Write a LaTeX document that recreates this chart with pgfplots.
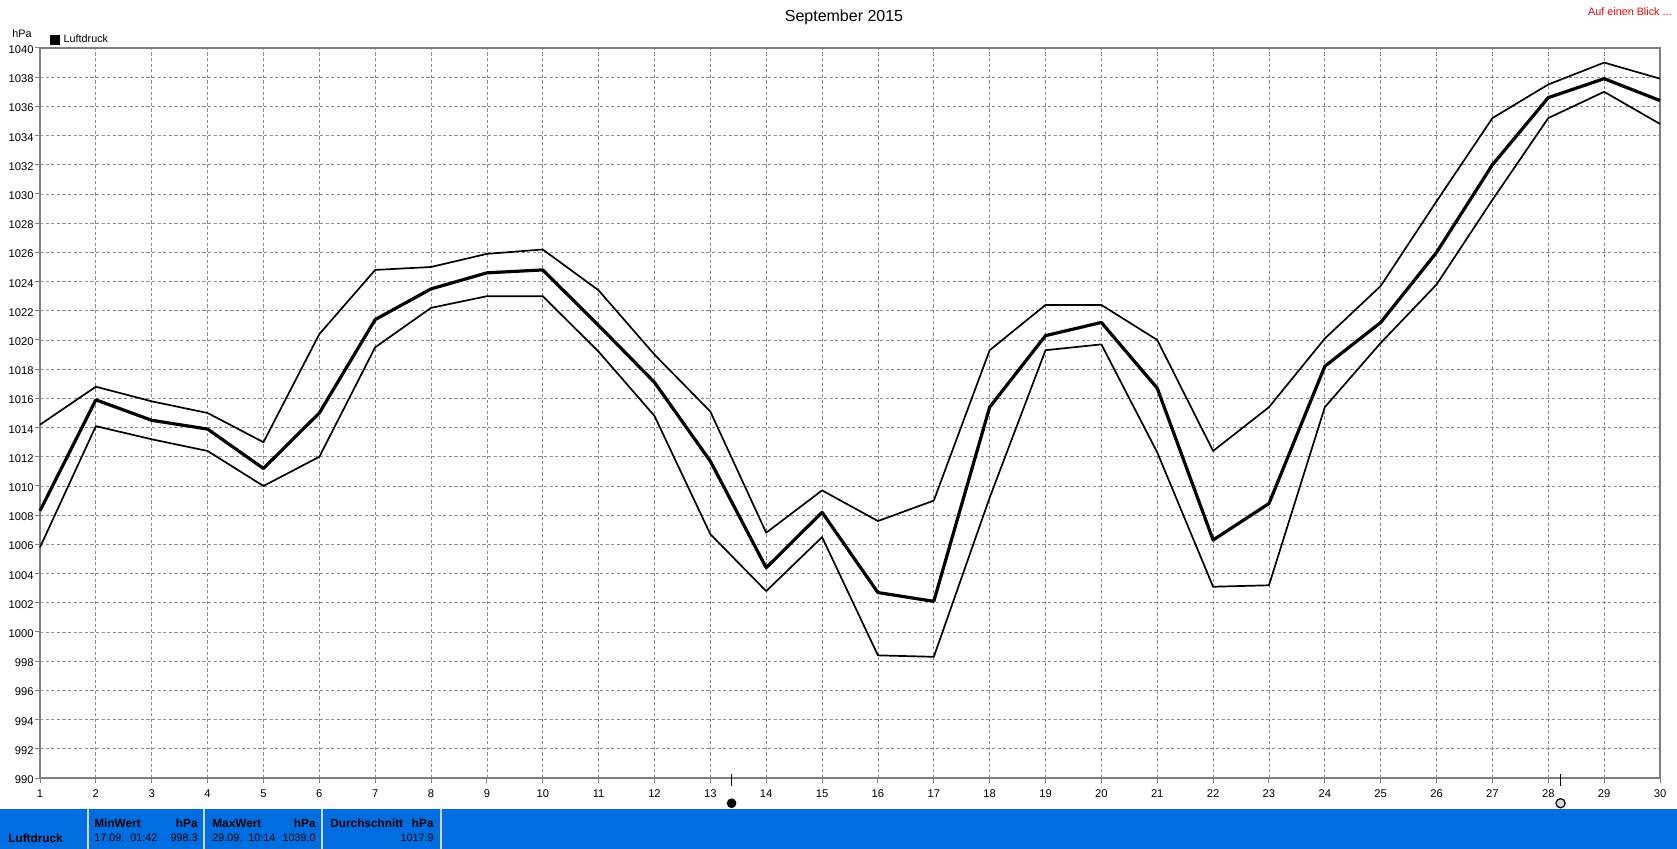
\documentclass[border=0pt]{standalone}
\usepackage{fontspec}
\setmainfont{Liberation Sans}
\usepackage{pgfplots}
\usepackage{pgfplotstable}
\pgfplotsset{compat=1.18}

\definecolor{gridgray}{RGB}{140,140,140}
\definecolor{axisgray}{RGB}{128,128,128}
\definecolor{bandblue}{RGB}{0,110,225}
\definecolor{sepgray}{RGB}{205,215,230}

% day, monthly band of daily max / mean / min pressure in hPa
\pgfplotstableread{
day  high    mean    low
1    1014.2  1008.3  1005.8
2    1016.8  1015.9  1014.1
3    1015.8  1014.5  1013.2
4    1015.0  1013.9  1012.4
5    1013.0  1011.2  1010.0
6    1020.4  1015.0  1012.0
7    1024.8  1021.4  1019.5
8    1025.0  1023.5  1022.2
9    1025.9  1024.6  1023.0
10   1026.2  1024.8  1023.0
11   1023.4  1021.0  1019.2
12   1019.0  1017.1  1014.8
13   1015.1  1011.7  1006.7
14   1006.8  1004.4  1002.8
15   1009.7  1008.2  1006.5
16   1007.6  1002.7  998.4
17   1009.0  1002.1  998.3
18   1019.3  1015.4  1009.2
19   1022.4  1020.3  1019.3
20   1022.4  1021.2  1019.7
21   1020.0  1016.7  1012.3
22   1012.4  1006.3  1003.1
23   1015.4  1008.8  1003.2
24   1020.1  1018.2  1015.4
25   1023.7  1021.2  1019.8
26   1029.5  1026.0  1023.8
27   1035.2  1032.0  1029.6
28   1037.5  1036.6  1035.2
29   1039.0  1037.9  1037.0
30   1037.9  1036.4  1034.8
}\pressure

\begin{document}
\begin{tikzpicture}[x=0.5pt,y=-0.5pt,
    small/.style={font=\fontsize{5.4}{7}\selectfont,inner sep=0pt},
    bold/.style={font=\fontsize{5.9}{7}\selectfont\bfseries,inner sep=0pt},
  ]
  \useasboundingbox (0,0) rectangle (1677,849);
  \coordinate (plotsw) at (40,778);

  % status band
  \fill[bandblue] (0,809) rectangle (1677,849);
  \foreach \s in {88,204,322,441}
    \fill[sepgray] (\s-1,809) rectangle (\s+1,849);

  \begin{axis}[
      at={(plotsw)}, anchor=south west,
      scale only axis,
      width=810pt, height=365pt,
      xmin=1, xmax=30, ymin=990, ymax=1040,
      xtick={1,...,30},
      ytick={990,992,...,1040},
      clip=false,
      axis line style={axisgray,line width=1pt},
      grid=both,
      grid style={gridgray,line width=0.4pt,dash pattern=on 1.6pt off 1.2pt},
      tick style={axisgray,line width=0.5pt},
      tick align=outside,
      major tick length=2.5pt,
      xtick pos=bottom, ytick pos=left,
      tick label style={font=\fontsize{5.6}{7}\selectfont,inner sep=0pt},
      xticklabel style={yshift=-3pt},
      yticklabel style={xshift=-0.5pt,yshift=-0.8pt},
      /pgf/number format/assume math mode=true,
      /pgf/number format/1000 sep={},
      legend style={at={(axis description cs:0.006,1.0115)},anchor=west,
        draw=none,fill=none,inner sep=0pt,outer sep=0pt,
        font=\fontsize{5.4}{7}\selectfont,
        /tikz/every even column/.style={column sep=2pt}},
      legend cell align=left,
      legend image code/.code={\fill[black,draw=none] (0pt,-2.5pt) rectangle (5pt,2.5pt);},
    ]
    \addplot[black,line width=0.85pt,line join=round,forget plot] table[x=day,y=high] {\pressure};
    \addplot[black,line width=0.85pt,line join=round,forget plot] table[x=day,y=low] {\pressure};
    \addplot[black,line width=1.6pt,line join=round] table[x=day,y=mean] {\pressure};
    \addlegendentry{Luftdruck}

    % moon phase ticks and discs under the axis
    \addplot[black,line width=0.5pt,forget plot] coordinates {(13.38,990.27) (13.38,989.47)};
    \addplot[black,line width=0.5pt,forget plot] coordinates {(28.22,990.27) (28.22,989.47)};
    \addplot[only marks,forget plot,mark=*,mark size=2.2pt,
      mark options={draw=black,fill=black}] coordinates {(13.38,988.27)};
    \addplot[only marks,forget plot,mark=*,mark size=2.3pt,
      mark options={draw=black,line width=0.6pt,fill=black!15}] coordinates {(28.22,988.27)};
  \end{axis}

  % texts around the plot
  \node[font=\fontsize{8}{9}\selectfont,inner sep=0pt] at (844,17) {September 2015};
  \node[small,text=red,anchor=east] at (1672,12) {Auf einen Blick ...};
  \node[small,anchor=west] at (12,34) {hPa};

  % status band texts
  \node[bold,anchor=west] at (8,838) {Luftdruck};
  \node[bold,anchor=west] at (94,823) {MinWert};
  \node[bold,anchor=east] at (198,823) {hPa};
  \node[small,anchor=west] at (94,838) {17.09.~~01:42};
  \node[small,anchor=east] at (198,838) {998.3};
  \node[bold,anchor=west] at (212,823) {MaxWert};
  \node[bold,anchor=east] at (316,823) {hPa};
  \node[small,anchor=west] at (212,838) {29.09.~~10:14};
  \node[small,anchor=east] at (316,838) {1039.0};
  \node[bold,anchor=west] at (330,823) {Durchschnitt};
  \node[bold,anchor=east] at (434,823) {hPa};
  \node[small,anchor=east] at (434,838) {1017.9};
\end{tikzpicture}
\end{document}
